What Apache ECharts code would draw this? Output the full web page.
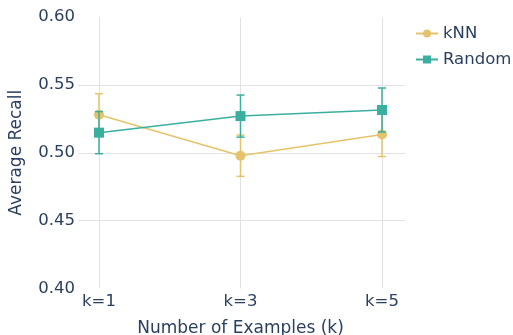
<!DOCTYPE html>
<html>
<head>
<meta charset="utf-8">
<script src="https://cdn.jsdelivr.net/npm/echarts@6/dist/echarts.min.js"></script>
<style>html,body{margin:0;padding:0;background:#fff}#c{width:513px;height:335px}</style>
</head>
<body>
<div id="c"></div>
<script>
var categories = ['k=1', 'k=3', 'k=5'];
var knnValues = [0.528, 0.4978, 0.5135];
var knnErrors = [0.0155, 0.0152, 0.0163];
var randomValues = [0.5148, 0.527, 0.5315];
var randomErrors = [0.0155, 0.0155, 0.0162];
var yTicks = [0.40, 0.45, 0.50, 0.55, 0.60];

var textColor = '#2a3f5f';
var font = 'DejaVu Sans';
var knnColor = '#E5C36A';
var randColor = '#3AAFA0';

function pts(vals){ return vals.map(function(v,i){ return [i, v]; }); }
function errData(vals, errs){ return vals.map(function(v,i){ return [i, v - errs[i], v + errs[i]]; }); }

function errRender(color){
  return function(params, api){
    var x = api.value(0);
    var lo = api.coord([x, api.value(1)]);
    var hi = api.coord([x, api.value(2)]);
    var w = 4;
    var st = {stroke: color, lineWidth: 1.5};
    return {type:'group', children:[
      {type:'line', shape:{x1:lo[0],y1:lo[1],x2:hi[0],y2:hi[1]}, style:st},
      {type:'line', shape:{x1:lo[0]-w,y1:lo[1],x2:lo[0]+w,y2:lo[1]}, style:st},
      {type:'line', shape:{x1:hi[0]-w,y1:hi[1],x2:hi[0]+w,y2:hi[1]}, style:st}
    ]};
  };
}

var chart = echarts.init(document.getElementById('c'));
chart.setOption({
  animation: false,
  backgroundColor: '#fff',
  textStyle: {fontFamily: font},
  grid: [
    {left: 78, right: 108, top: 17, bottom: 46.5, containLabel: false, outerBoundsMode: 'none'},
    {left: 99, right: 131, top: 17, bottom: 46.5, containLabel: false, outerBoundsMode: 'none'}
  ],
  legend: {
    orient: 'vertical', left: 410, top: 20, itemWidth: 22, itemHeight: 10, itemGap: 9,
    data: ['kNN', 'Random'],
    textStyle: {color: textColor, fontSize: 16.5, fontFamily: font}
  },
  xAxis: [
    {gridIndex: 0, type: 'value', min: 0, max: 1, show: false},
    {gridIndex: 1, type: 'value', min: 0, max: 2, interval: 1,
     name: 'Number of Examples (k)', nameLocation: 'middle', nameGap: 32,
     nameTextStyle: {color: textColor, fontSize: 17, fontFamily: font},
     axisLine: {show: false}, axisTick: {show: false},
     axisLabel: {color: textColor, fontSize: 16.5, fontFamily: font, margin: 5,
       formatter: function(v){ return categories[v] || ''; }},
     splitLine: {show: true, lineStyle: {color: '#e2e2e2', width: 1}}}
  ],
  yAxis: [
    {gridIndex: 0, type: 'value', min: 0.40, max: 0.60, interval: 0.05,
     name: 'Average Recall', nameLocation: 'middle', nameGap: 53,
     nameTextStyle: {color: textColor, fontSize: 17, fontFamily: font},
     axisLine: {show: false}, axisTick: {show: false},
     axisLabel: {color: textColor, fontSize: 16.5, fontFamily: font, margin: 3,
       formatter: function(v){ return v.toFixed(2); }},
     splitLine: {show: true, showMinLine: false, showMaxLine: false, lineStyle: {color: '#e2e2e2', width: 1}}},
    {gridIndex: 1, type: 'value', min: 0.40, max: 0.60, show: false}
  ],
  series: [
    {name: 'kNN err', type: 'custom', xAxisIndex: 1, yAxisIndex: 1, z: 2,
     renderItem: errRender(knnColor), data: errData(knnValues, knnErrors)},
    {name: 'kNN', type: 'line', xAxisIndex: 1, yAxisIndex: 1, z: 3,
     data: pts(knnValues), symbol: 'circle', symbolSize: 10,
     itemStyle: {color: knnColor}, lineStyle: {color: knnColor, width: 1.5}},
    {name: 'Random err', type: 'custom', xAxisIndex: 1, yAxisIndex: 1, z: 4,
     renderItem: errRender(randColor), data: errData(randomValues, randomErrors)},
    {name: 'Random', type: 'line', xAxisIndex: 1, yAxisIndex: 1, z: 5,
     data: pts(randomValues), symbol: 'rect', symbolSize: 10,
     itemStyle: {color: randColor}, lineStyle: {color: randColor, width: 1.5}}
  ]
});
</script>
</body>
</html>
